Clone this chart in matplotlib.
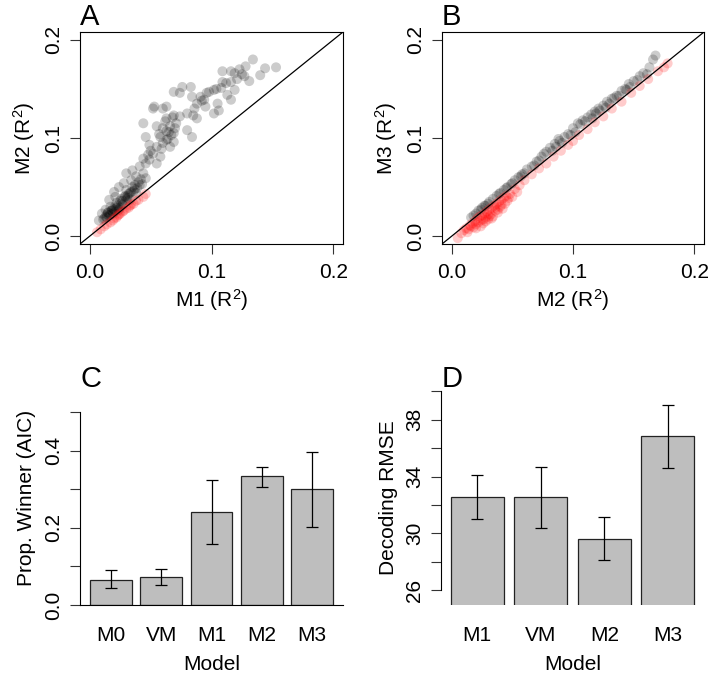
import numpy as np
import matplotlib
matplotlib.use("Agg")
import matplotlib.pyplot as plt

plt.rcParams['font.family'] = ['Liberation Sans', 'DejaVu Sans']
plt.rcParams['mathtext.fontset'] = 'custom'
plt.rcParams['mathtext.rm'] = 'Liberation Sans'
plt.rcParams['mathtext.it'] = 'Liberation Sans:italic'
plt.rcParams['font.size'] = 15

# ===== data: panel A (M1 vs M2 R^2) =====
a_m1 = [0.153, 0.144, 0.140, 0.134, 0.128, 0.127, 0.123, 0.119, 0.116, 0.109,
        0.116, 0.109, 0.119, 0.113, 0.116, 0.108, 0.102, 0.096, 0.091, 0.094,
        0.105, 0.106, 0.102, 0.095, 0.088, 0.084, 0.083, 0.076, 0.074, 0.069,
        0.063, 0.060, 0.069, 0.074, 0.080, 0.085, 0.088, 0.080, 0.084, 0.071,
        0.063, 0.066, 0.069, 0.063, 0.060, 0.055, 0.052, 0.044, 0.053, 0.046,
        0.058, 0.063, 0.069, 0.066, 0.060, 0.055, 0.049, 0.052, 0.058, 0.049,
        0.055, 0.046, 0.044, 0.041, 0.035, 0.038, 0.044, 0.046, 0.034, 0.030,
        0.028, 0.024, 0.030, 0.020, 0.021, 0.016, 0.017, 0.013, 0.010, 0.013,
        0.0075, 0.033, 0.035, 0.026, 0.030, 0.038, 0.041, 0.021, 0.024, 0.019,
        0.016, 0.020, 0.027, 0.033, 0.022, 0.018, 0.015, 0.025, 0.029, 0.036,
        0.012, 0.014, 0.031, 0.039, 0.043,
        0.065, 0.067, 0.062, 0.068, 0.064, 0.057, 0.059, 0.070, 0.048, 0.050,
        0.040, 0.037, 0.032, 0.027, 0.023, 0.019, 0.015, 0.018, 0.022, 0.026,
        0.029, 0.034, 0.037, 0.042, 0.014, 0.011, 0.017, 0.021, 0.025, 0.031,
        0.098, 0.104, 0.112, 0.121, 0.125, 0.131, 0.092, 0.086,
        # below the diagonal
        0.046, 0.044, 0.038, 0.034, 0.030, 0.024, 0.020, 0.014, 0.009, 0.006,
        0.022, 0.027, 0.017, 0.032, 0.036, 0.040, 0.025, 0.019, 0.012, 0.028,
        0.023, 0.033]
a_m2 = [0.172, 0.171, 0.164, 0.180, 0.173, 0.163, 0.170, 0.166, 0.168, 0.168,
        0.157, 0.157, 0.149, 0.144, 0.139, 0.151, 0.149, 0.146, 0.142, 0.139,
        0.135, 0.128, 0.125, 0.132, 0.135, 0.142, 0.152, 0.152, 0.146, 0.147,
        0.132, 0.130, 0.123, 0.122, 0.125, 0.123, 0.120, 0.108, 0.101, 0.115,
        0.120, 0.112, 0.105, 0.107, 0.110, 0.112, 0.130, 0.115, 0.132, 0.101,
        0.101, 0.098, 0.096, 0.091, 0.095, 0.091, 0.093, 0.084, 0.081, 0.078,
        0.074, 0.074, 0.079, 0.071, 0.067, 0.061, 0.064, 0.059, 0.057, 0.064,
        0.054, 0.050, 0.047, 0.045, 0.040, 0.037, 0.030, 0.027, 0.023, 0.020,
        0.016, 0.044, 0.050, 0.038, 0.037, 0.044, 0.052, 0.030, 0.027, 0.023,
        0.021, 0.027, 0.032, 0.037, 0.034, 0.026, 0.024, 0.036, 0.041, 0.046,
        0.018, 0.022, 0.039, 0.049, 0.053,
        0.106, 0.103, 0.117, 0.121, 0.099, 0.104, 0.089, 0.110, 0.083, 0.087,
        0.055, 0.048, 0.043, 0.036, 0.031, 0.028, 0.024, 0.026, 0.029, 0.033,
        0.040, 0.045, 0.052, 0.058, 0.019, 0.017, 0.022, 0.025, 0.029, 0.041,
        0.147, 0.150, 0.156, 0.160, 0.165, 0.158, 0.138, 0.130,
        0.043, 0.040, 0.036, 0.032, 0.028, 0.022, 0.018, 0.012, 0.007, 0.004,
        0.019, 0.025, 0.014, 0.029, 0.033, 0.037, 0.023, 0.016, 0.010, 0.026,
        0.021, 0.031]

# ===== data: panel B (M2 vs M3 R^2) =====
b_m2 = [0.168, 0.166, 0.163, 0.158, 0.155, 0.150, 0.146, 0.143, 0.140, 0.136,
        0.132, 0.128, 0.125, 0.121, 0.118, 0.115, 0.112, 0.108, 0.104, 0.100,
        0.096, 0.093, 0.089, 0.085, 0.081, 0.078, 0.074, 0.070, 0.066, 0.062,
        0.058, 0.055, 0.052, 0.049, 0.046, 0.043, 0.040, 0.037, 0.034, 0.031,
        0.028, 0.025, 0.022, 0.020, 0.018, 0.016, 0.134, 0.147, 0.122, 0.110,
        0.098, 0.086, 0.072, 0.060, 0.045, 0.030, 0.024, 0.119, 0.153, 0.076,
        0.088, 0.106, 0.130, 0.161, 0.144, 0.138, 0.127, 0.116, 0.102, 0.091,
        0.083, 0.068, 0.057, 0.050, 0.039, 0.027,
        # below the diagonal
        0.005, 0.008, 0.010, 0.012, 0.014, 0.015, 0.017, 0.018, 0.019, 0.020,
        0.021, 0.022, 0.023, 0.024, 0.025, 0.026, 0.027, 0.028, 0.029, 0.030,
        0.031, 0.032, 0.033, 0.034, 0.035, 0.036, 0.037, 0.038, 0.039, 0.040,
        0.041, 0.042, 0.043, 0.044, 0.045, 0.046, 0.048, 0.050, 0.052, 0.054,
        0.056, 0.060, 0.066, 0.072, 0.078, 0.084, 0.090, 0.096, 0.100, 0.105,
        0.112, 0.118, 0.125, 0.132, 0.140, 0.148, 0.155, 0.162, 0.170, 0.175,
        0.178, 0.024, 0.028, 0.033, 0.038, 0.030, 0.020, 0.016, 0.036, 0.041,
        0.047, 0.013, 0.026, 0.031]
b_m3 = [0.184, 0.180, 0.172, 0.166, 0.163, 0.158, 0.155, 0.150, 0.148, 0.143,
        0.140, 0.137, 0.133, 0.130, 0.127, 0.124, 0.121, 0.118, 0.115, 0.110,
        0.104, 0.101, 0.097, 0.094, 0.090, 0.086, 0.081, 0.076, 0.071, 0.068,
        0.063, 0.060, 0.057, 0.053, 0.050, 0.047, 0.044, 0.041, 0.038, 0.035,
        0.031, 0.029, 0.026, 0.023, 0.021, 0.019, 0.141, 0.152, 0.128, 0.117,
        0.103, 0.091, 0.077, 0.064, 0.049, 0.033, 0.027, 0.125, 0.159, 0.084,
        0.099, 0.114, 0.135, 0.165, 0.149, 0.143, 0.131, 0.120, 0.106, 0.095,
        0.087, 0.072, 0.061, 0.054, 0.043, 0.031,
        -0.002, 0.003, 0.006, 0.008, 0.007, 0.011, 0.013, 0.009, 0.015, 0.012,
        0.018, 0.014, 0.020, 0.016, 0.021, 0.013, 0.023, 0.019, 0.025, 0.017,
        0.027, 0.022, 0.029, 0.020, 0.031, 0.026, 0.033, 0.024, 0.035, 0.030,
        0.037, 0.028, 0.039, 0.033, 0.041, 0.036, 0.043, 0.040, 0.048, 0.045,
        0.052, 0.057, 0.063, 0.069, 0.074, 0.081, 0.087, 0.093, 0.097, 0.103,
        0.109, 0.116, 0.122, 0.130, 0.137, 0.146, 0.153, 0.160, 0.168, 0.172,
        0.176, 0.010, 0.015, 0.018, 0.027, 0.022, 0.008, 0.010, 0.029, 0.032,
        0.039, 0.004, 0.017, 0.020]

# ===== data: panel C (proportion winner by AIC) =====
c_models = ['M0', 'VM', 'M1', 'M2', 'M3']
c_prop = [0.066, 0.072, 0.241, 0.333, 0.300]
c_lo = [0.043, 0.051, 0.158, 0.306, 0.203]
c_hi = [0.090, 0.093, 0.323, 0.358, 0.397]

# ===== data: panel D (decoding RMSE) =====
d_models = ['M1', 'VM', 'M2', 'M3']
d_rmse = [32.57, 32.57, 29.62, 36.83]
d_lo = [31.01, 30.38, 28.13, 34.63]
d_hi = [34.13, 34.70, 31.13, 39.05]

W, H = 714, 676
fig = plt.figure(figsize=(W / 100, H / 100), dpi=100)


def px_axes(x0, y0, x1, y1):
    # pixel box (top-left origin) -> figure axes
    return fig.add_axes([x0 / W, 1 - y1 / H, (x1 - x0) / W, (y1 - y0) / H])


def style(ax):
    ax.tick_params(direction='out', length=7, width=0.8, color='#333333', pad=3)
    ax.tick_params(axis='y', pad=5)
    for s in ax.spines.values():
        s.set_linewidth(0.8)
    plt.setp(ax.get_yticklabels(), rotation=90, va='center')


def scatter_panel(ax, x, y, xlab, ylab):
    x = np.array(x)
    y = np.array(y)
    cols = [(0, 0, 0, 0.2) if yy > xx else (1, 0, 0, 0.2) for xx, yy in zip(x, y)]
    ax.scatter(x, y, s=52, c=cols, edgecolors='none')
    ax.set_xlim(-0.008, 0.208)
    ax.set_ylim(-0.008, 0.208)
    ax.plot([-0.008, 0.208], [-0.008, 0.208], color='black', lw=0.9)
    ax.set_xticks([0, 0.1, 0.2])
    ax.set_yticks([0, 0.1, 0.2])
    ax.set_xticklabels(['0.0', '0.1', '0.2'])
    ax.set_yticklabels(['0.0', '0.1', '0.2'])
    ax.set_xlabel(xlab, labelpad=3)
    ax.set_ylabel(ylab, labelpad=5)
    style(ax)
    ax.tick_params(axis='x', pad=7)


axA = px_axes(80, 32, 343, 244)
scatter_panel(axA, a_m1, a_m2, 'M1 (R$^2$)', 'M2 (R$^2$)')
axB = px_axes(442, 32, 704, 244)
scatter_panel(axB, b_m2, b_m3, 'M2 (R$^2$)', 'M3 (R$^2$)')

# ===== panel C =====
axC = px_axes(80, 390, 343, 605)
xc = np.arange(len(c_models)) * 1.2 + 0.7
yerr_c = [np.array(c_prop) - np.array(c_lo), np.array(c_hi) - np.array(c_prop)]
axC.bar(xc, c_prop, width=1.0, color='#bebebe', edgecolor='#222222', linewidth=0.9)
axC.errorbar(xc, c_prop, yerr=yerr_c, fmt='none', ecolor='black', elinewidth=0.9, capsize=4, capthick=0.9)
axC.set_xlim(-0.032, 6.232)
axC.set_ylim(0, 0.557)
axC.set_yticks([0, 0.1, 0.2, 0.3, 0.4, 0.5])
axC.set_yticklabels(['0.0', '', '0.2', '', '0.4', ''])
axC.spines['left'].set_bounds(0, 0.5)
axC.spines['top'].set_visible(False)
axC.spines['right'].set_visible(False)
axC.set_xticks(xc)
axC.set_xticklabels(c_models)
axC.set_xlabel('Model', labelpad=7)
axC.set_ylabel('Prop. Winner (AIC)', labelpad=6)
style(axC)
axC.tick_params(axis='x', length=0, pad=15)

# ===== panel D =====
axD = px_axes(441, 390, 704, 605)
xd = np.arange(len(d_models)) * 1.2 + 0.7
yerr_d = [np.array(d_rmse) - np.array(d_lo), np.array(d_hi) - np.array(d_rmse)]
axD.bar(xd, np.array(d_rmse) - 20, bottom=20, width=1.0, color='#bebebe',
        edgecolor='#222222', linewidth=0.9)
axD.errorbar(xd, d_rmse, yerr=yerr_d, fmt='none', ecolor='black', elinewidth=0.9, capsize=4, capthick=0.9)
axD.set_xlim(0.016, 4.984)
axD.set_ylim(24.94, 40.1)
axD.set_yticks(np.arange(26, 41, 2))
axD.set_yticklabels(['26', '', '30', '', '34', '', '38', ''])
axD.spines['left'].set_bounds(26, 40)
for s in ['top', 'right', 'bottom']:
    axD.spines[s].set_visible(False)
axD.set_xticks(xd)
axD.set_xticklabels(d_models)
axD.set_xlabel('Model', labelpad=7)
axD.set_ylabel('Decoding RMSE', labelpad=5)
style(axD)
axD.tick_params(axis='x', length=0, pad=15)

# panel letters
for lab, x, y in [('A', 80, 25), ('B', 442, 25), ('C', 80, 387), ('D', 442, 387)]:
    fig.text(x / W, 1 - y / H, lab, fontsize=21, ha='left', va='baseline')

fig.savefig('out.png', dpi=100)
